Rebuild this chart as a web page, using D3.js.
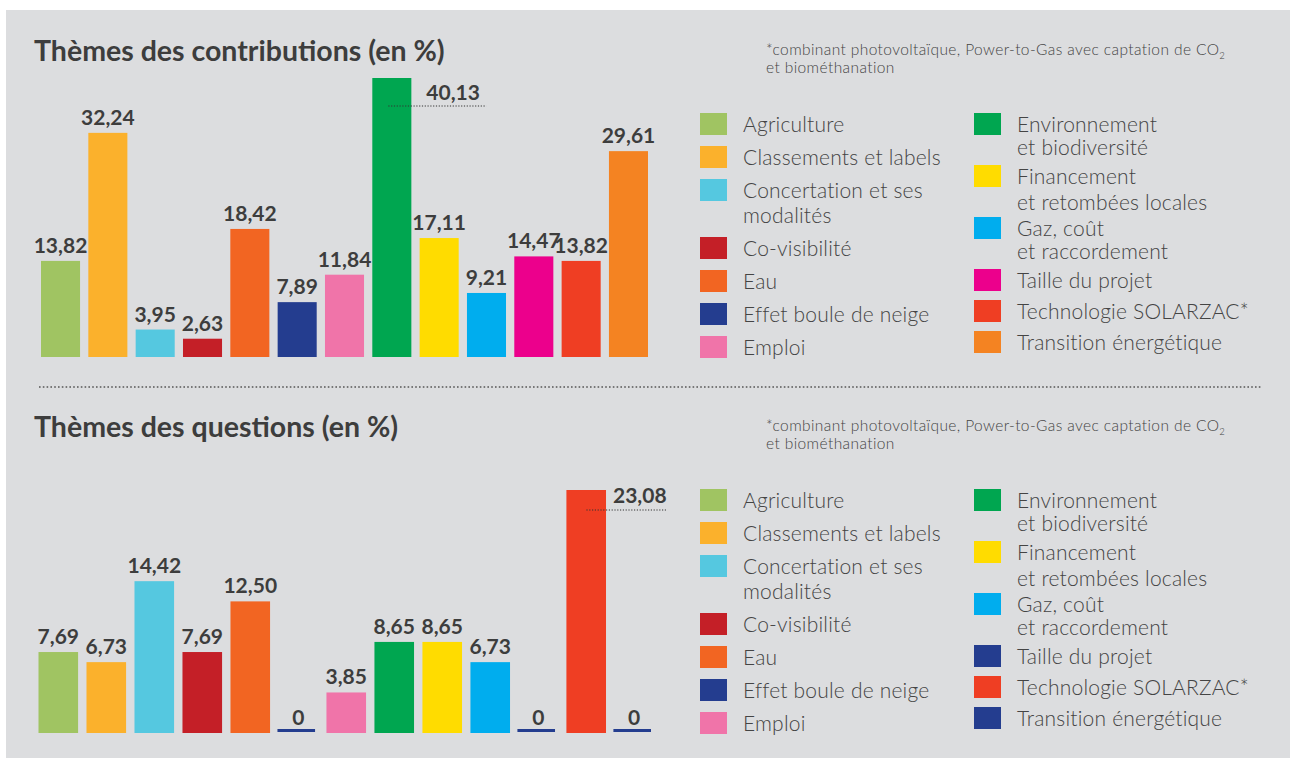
<!DOCTYPE html>
<html lang="fr">
<head>
<meta charset="utf-8">
<script src="https://cdn.jsdelivr.net/npm/d3@7"></script>
<style>
  html, body { margin: 0; padding: 0; background: #fff; }
  svg { display: block; }
  text { font-family: Lato, "Noto Sans", sans-serif; fill: #3d3d3d; }
</style>
</head>
<body>
<div id="chart"></div>
<script>
// données
const categories = [
  "Agriculture", "Classements et labels", "Concertation et ses modalités",
  "Co-visibilité", "Eau", "Effet boule de neige", "Emploi",
  "Environnement et biodiversité", "Financement et retombées locales",
  "Gaz, coût et raccordement", "Taille du projet", "Technologie SOLARZAC*",
  "Transition énergétique"
];
const legendLines = [
  ["Agriculture"], ["Classements et labels"], ["Concertation et ses", "modalités"],
  ["Co-visibilité"], ["Eau"], ["Effet boule de neige"], ["Emploi"],
  ["Environnement", "et biodiversité"], ["Financement", "et retombées locales"],
  ["Gaz, coût", "et raccordement"], ["Taille du projet"], ["Technologie SOLARZAC*"],
  ["Transition énergétique"]
];
const contributions = [13.82, 32.24, 3.95, 2.63, 18.42, 7.89, 11.84, 40.13, 17.11, 9.21, 14.47, 13.82, 29.61];
const questions = [7.69, 6.73, 14.42, 7.69, 12.50, 0, 3.85, 8.65, 8.65, 6.73, 0, 23.08, 0];

const contribColors = ["#a0c462", "#fbb12c", "#55c8e0", "#c41f27", "#f26522", "#243d8f", "#f074a9",
  "#00a650", "#ffdc00", "#00adee", "#ec008c", "#ef3e23", "#f48322"];
const questionColors = ["#a0c462", "#fbb12c", "#55c8e0", "#c41f27", "#f26522", "#243d8f", "#f074a9",
  "#00a650", "#ffdc00", "#00adee", "#243d8f", "#ef3e23", "#243d8f"];

const titles = ["Thèmes des contributions (en %)", "Thèmes des questions (en %)"];

const fmt = v => v === 0 ? "0" : v.toFixed(2).replace(".", ",");

const W = 1290, H = 758;

const svg = d3.select("#chart").append("svg")
  .attr("width", W)
  .attr("height", H);

svg.append("rect")
  .attr("x", 6).attr("y", 10)
  .attr("width", W - 6).attr("height", H - 10)
  .attr("fill", "#dcdddf");

// ligne de séparation pointillée
svg.append("line")
  .attr("x1", 39).attr("x2", 1262)
  .attr("y1", 387).attr("y2", 387)
  .attr("stroke", "#555")
  .attr("stroke-width", 1.6)
  .attr("stroke-dasharray", "1.6 2.2");

function drawPanel(opts) {
  const g = svg.append("g").attr("transform", `translate(0,${opts.dy})`);

  g.append("text")
    .attr("x", 34).attr("y", 61)
    .style("font-size", "28.5px")
    .style("font-weight", 700)
    .text(opts.title);

  // note
  const note = g.append("text")
    .attr("x", 766).attr("y", 55)
    .style("font-size", "15.5px")
    .style("font-weight", 300)
    .style("letter-spacing", "0.4px")
    .style("fill", "#444");
  note.append("tspan").text("*combinant photovoltaïque, Power-to-Gas avec captation de CO");
  note.append("tspan").attr("dy", 4).style("font-size", "9.5px").text("2");
  g.append("text")
    .attr("x", 766).attr("y", 73)
    .style("font-size", "15.5px")
    .style("font-weight", 300)
    .style("letter-spacing", "0.4px")
    .style("fill", "#444")
    .text("et biométhanation");

  const x = d3.scaleBand()
    .domain(categories)
    .range(opts.xRange)
    .paddingInner(0.175)
    .paddingOuter(0);

  const y = d3.scaleLinear()
    .domain([0, d3.max(opts.values)])
    .range([opts.base, opts.top]);

  const data = categories.map((c, i) => ({ cat: c, v: opts.values[i], color: opts.colors[i] }));
  const maxV = d3.max(opts.values);

  g.selectAll(".bar")
    .data(data)
    .enter()
    .append("rect")
    .attr("class", "bar")
    .attr("x", d => d.v === 0 ? x(d.cat) - 1 : x(d.cat))
    .attr("width", d => d.v === 0 ? x.bandwidth() - 2 : x.bandwidth())
    .attr("y", d => d.v === 0 ? y(0) - 4 : y(d.v))
    .attr("height", d => d.v === 0 ? 3 : y(0) - y(d.v))
    .attr("fill", d => d.color);

  g.selectAll(".label")
    .data(data.filter(d => d.v !== maxV))
    .enter()
    .append("text")
    .attr("class", "label")
    .attr("x", d => x(d.cat) + x.bandwidth() / 2)
    .attr("y", d => d.v === 0 ? y(0) - 8 : y(d.v) - 8)
    .attr("text-anchor", "middle")
    .style("font-size", "21px")
    .style("font-weight", 700)
    .text(d => fmt(d.v));

  // valeur max : étiquette à droite avec trait pointillé
  const m = data.find(d => d.v === maxV);
  g.append("line")
    .attr("x1", x(m.cat) + opts.lead[0])
    .attr("x2", x(m.cat) + x.bandwidth() + opts.lead[1])
    .attr("y1", y(m.v) + opts.lead[2])
    .attr("y2", y(m.v) + opts.lead[2])
    .attr("stroke", "#333")
    .attr("stroke-width", 1)
    .attr("stroke-dasharray", "1.2 1.6");
  g.append("text")
    .attr("x", x(m.cat) + x.bandwidth() + opts.lead[3])
    .attr("y", y(m.v) + opts.lead[4])
    .style("font-size", "21px")
    .style("font-weight", 700)
    .text(fmt(m.v));

  // légende en deux colonnes
  const cols = [{ x: 700, items: d3.range(0, 7) }, { x: 974, items: d3.range(7, 13) }];
  cols.forEach((col, ci) => {
    let yy = 113;
    const gap = ci === 0 ? 25 : 23;
    col.items.forEach(i => {
      const lines = legendLines[i];
      g.append("rect")
        .attr("x", col.x).attr("y", yy)
        .attr("width", 27).attr("height", 22)
        .attr("fill", opts.colors[i]);
      const t = g.append("text")
        .attr("x", col.x + 43).attr("y", yy + 19)
        .style("font-size", "21px")
        .style("font-weight", 300)
        .style("letter-spacing", "0.2px")
        .style("fill", "#444");
      lines.forEach((l, k) => {
        t.append("tspan")
          .attr("x", col.x + 43)
          .attr("dy", k === 0 ? 0 : gap + (i === 8 ? 3 : 0))
          .text(l);
      });
      yy += (ci === 0 ? 33 : 31) + (lines.length - 1) * (ci === 0 ? 25 : 21);
    });
  });
}

drawPanel({
  dy: 0, title: titles[0], values: contributions, colors: contribColors,
  xRange: [41, 648], base: 357, top: 78,
  lead: [16, 75, 28, 15, 22]
});

drawPanel({
  dy: 376, title: titles[1], values: questions, colors: questionColors,
  xRange: [38.5, 654], base: 733 - 376, top: 490 - 376,
  lead: [20, 61, 20, 7, 13]
});
</script>
</body>
</html>
